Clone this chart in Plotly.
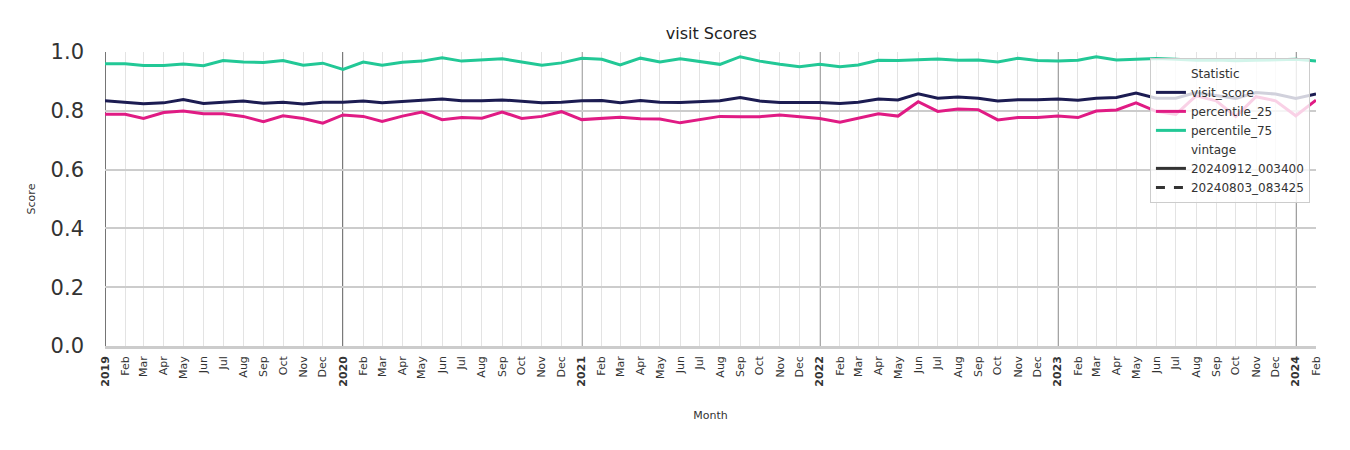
import plotly.graph_objects as go
import pandas as pd

months = pd.date_range("2019-01-01", "2024-02-01", freq="MS")

visit_score = [
    0.834, 0.829, 0.824, 0.827, 0.838, 0.825, 0.830, 0.833, 0.826, 0.829, 0.823, 0.829,
    0.829, 0.833, 0.827, 0.832, 0.835, 0.840, 0.834, 0.834, 0.837, 0.833, 0.827, 0.829,
    0.834, 0.835, 0.827, 0.835, 0.829, 0.828, 0.832, 0.834, 0.845, 0.833, 0.828, 0.828,
    0.828, 0.825, 0.829, 0.840, 0.837, 0.858, 0.843, 0.847, 0.843, 0.833, 0.838, 0.838,
    0.840, 0.836, 0.843, 0.845, 0.860, 0.843, 0.843, 0.862, 0.853, 0.842, 0.862, 0.857,
    0.842, 0.857,
]
percentile_25 = [
    0.788, 0.788, 0.774, 0.794, 0.799, 0.790, 0.790, 0.781, 0.763, 0.783, 0.774, 0.758,
    0.786, 0.781, 0.764, 0.782, 0.796, 0.770, 0.777, 0.775, 0.796, 0.774, 0.781, 0.797,
    0.770, 0.775, 0.778, 0.773, 0.772, 0.759, 0.769, 0.781, 0.780, 0.780, 0.786, 0.781,
    0.774, 0.761, 0.776, 0.790, 0.782, 0.831, 0.798, 0.806, 0.804, 0.769, 0.777, 0.777,
    0.782, 0.777, 0.799, 0.803, 0.827, 0.798, 0.788, 0.851, 0.834, 0.781, 0.848, 0.834,
    0.783, 0.836,
]
percentile_75 = [
    0.960, 0.960, 0.954, 0.954, 0.959, 0.953, 0.971, 0.966, 0.964, 0.971, 0.955, 0.962,
    0.941, 0.966, 0.955, 0.965, 0.969, 0.980, 0.969, 0.974, 0.977, 0.966, 0.955, 0.963,
    0.979, 0.975, 0.956, 0.979, 0.966, 0.977, 0.967, 0.958, 0.984, 0.969, 0.958, 0.950,
    0.958, 0.950, 0.956, 0.972, 0.971, 0.974, 0.976, 0.972, 0.973, 0.966, 0.979, 0.971,
    0.969, 0.972, 0.984, 0.973, 0.975, 0.978, 0.975, 0.972, 0.973, 0.970, 0.972, 0.973,
    0.975, 0.969,
]
vintages = ["20240912_003400", "20240803_083425"]
y_ticks = [0.0, 0.2, 0.4, 0.6, 0.8, 1.0]

series = [
    ("visit_score", visit_score, "#1c1c52"),
    ("percentile_25", percentile_25, "#e01b84"),
    ("percentile_75", percentile_75, "#22c896"),
]

month_str = [m.strftime("%Y-%m-%d") for m in months]
tick_text = [f"<b>{m.year}</b>" if m.month == 1 else m.strftime("%b") for m in months]

fig = go.Figure()

fig.add_trace(go.Scatter(x=[None], y=[None], mode="lines", name="Statistic",
                         line=dict(color="rgba(0,0,0,0)", width=0)))
for name, vals, col in series:
    fig.add_trace(go.Scatter(x=month_str, y=vals, mode="lines", name=name,
                             line=dict(color=col, width=3)))
fig.add_trace(go.Scatter(x=[None], y=[None], mode="lines", name="vintage",
                         line=dict(color="rgba(0,0,0,0)", width=0)))
fig.add_trace(go.Scatter(x=[None], y=[None], mode="lines", name=vintages[0],
                         line=dict(color="#333333", width=3)))
fig.add_trace(go.Scatter(x=[None], y=[None], mode="lines", name=vintages[1],
                         line=dict(color="#333333", width=3, dash="dash")))

for m, s in zip(months, month_str):
    if m.month == 1:
        fig.add_shape(type="line", x0=s, x1=s, y0=0, y1=1, xref="x", yref="paper",
                      line=dict(color="#3a3a3a", width=1.4), layer="between")

fig.update_layout(
    width=1350, height=450,
    margin=dict(l=97, r=42, t=44, b=112),
    paper_bgcolor="white", plot_bgcolor="white",
    font=dict(family="DejaVu Sans", color="#333333"),
    title=dict(text="visit Scores", x=0.521, xanchor="center", y=0.944, yanchor="middle",
               font=dict(size=16, color="#222222")),
    legend=dict(x=0.995, xanchor="right", y=0.98, yanchor="top",
                bgcolor="rgba(255,255,255,0.8)", bordercolor="#cccccc", borderwidth=1,
                font=dict(size=12, color="#333333"), tracegroupgap=0),
    showlegend=True,
)
fig.update_xaxes(
    type="date",
    range=[month_str[0], month_str[-1]],
    tickmode="array", tickvals=month_str, ticktext=tick_text,
    tickangle=-90, tickfont=dict(size=11, color="#333333"),
    ticklabelstandoff=3,
    showgrid=True, gridcolor="#e3e3e3", gridwidth=1,
    showline=True, linecolor="#cccccc", linewidth=2.5,
    ticks="", zeroline=False, automargin=False,
    title=dict(text="Month", font=dict(size=11, color="#333333"), standoff=26),
)
fig.update_yaxes(
    range=[0, 1.0], tickmode="array", tickvals=y_ticks,
    ticktext=[f"{v:.1f}" for v in y_ticks],
    tickfont=dict(size=21, color="#333333"),
    ticklabelstandoff=20,
    showgrid=True, gridcolor="#cccccc", gridwidth=1.5,
    zeroline=False, showline=False, ticks="", automargin=False,
    title=dict(text="Score", font=dict(size=11, color="#333333"), standoff=12),
)

fig.write_html("out.html")
